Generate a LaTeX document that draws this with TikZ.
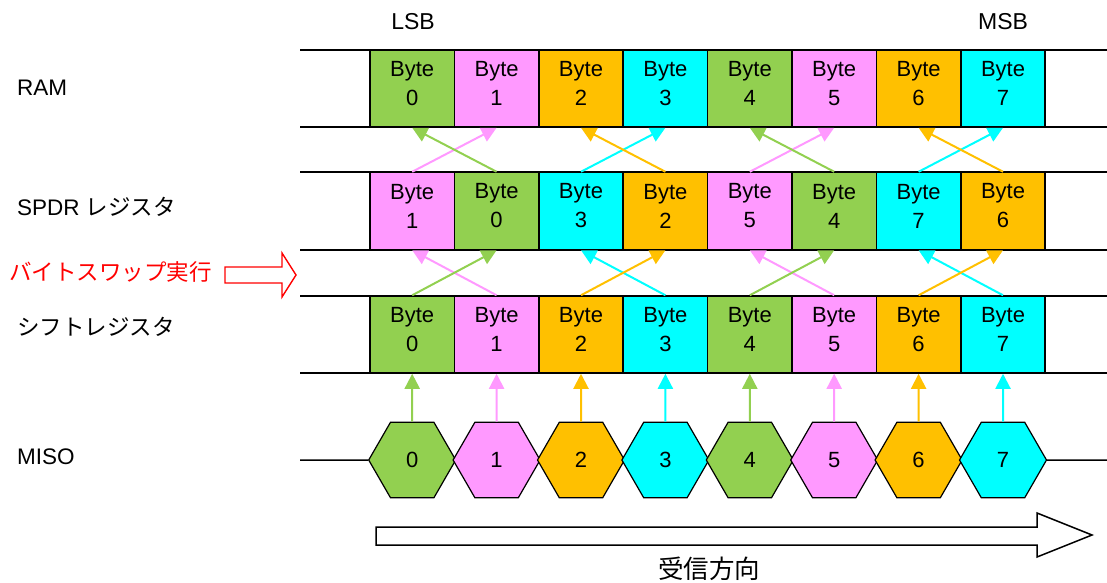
\documentclass[tikz,border=0pt]{standalone}
\usepackage{fontspec}
\setmainfont{Liberation Sans}
\newfontfamily\jpfont{Noto Sans CJK JP}
\usetikzlibrary{arrows.meta,shapes.geometric}
\definecolor{bgreen}{RGB}{146,208,80}
\definecolor{bpink}{RGB}{255,153,255}
\definecolor{bgold}{RGB}{255,192,0}
\definecolor{bcyan}{RGB}{0,255,255}
\tikzset{
  cell/.style={draw, line width=1.5pt, minimum width=84.4pt, minimum height=77pt,
    inner sep=0pt},
  celltext/.style={inner sep=0pt, align=center, font=\fontsize{22}{29}\selectfont},
  hexa/.style={draw, line width=1.2pt, regular polygon, regular polygon sides=6,
    minimum size=87pt, inner sep=0pt, font=\fontsize{22}{24}\selectfont},
  bus/.style={line width=1.5pt},
  feed/.style={line width=2pt, -{Triangle[width=15pt,length=15pt]}},
  rowlabel/.style={anchor=west, inner xsep=0pt, font=\fontsize{22.5}{25}\selectfont},
}
\begin{document}
\begin{tikzpicture}[x=1pt,y=-1pt]
\useasboundingbox (0,0) rectangle (1107,582);

% bus lines
\foreach \y in {50,127,172,250,296,373}
  \draw[bus] (300,\y) -- (1107,\y);

% RAM and shift register
\foreach \i/\c in {0/bgreen,1/bpink,2/bgold,3/bcyan,4/bgreen,5/bpink,6/bgold,7/bcyan}{
  \node[cell, fill=\c] (r\i) at (412.2+84.4*\i, 88.5) {};
  \node[celltext] (rt\i) at ([yshift=5pt]r\i.center) {Byte\\\i};
  \node[cell, fill=\c] (s\i) at (412.2+84.4*\i, 334.5) {};
  \node[celltext] (st\i) at ([yshift=5pt]s\i.center) {Byte\\\i};
  \node[hexa, fill=\c] (m\i) at (412.2+84.4*\i, 460) {\i};
  \draw[feed, \c] (m\i.north) -- (s\i.south);
}

% SPDR after the byte swap
\foreach \i/\j/\c in {0/1/bpink,1/0/bgreen,2/3/bcyan,3/2/bgold,4/5/bpink,5/4/bgreen,6/7/bcyan,7/6/bgold}{
  \node[cell, fill=\c] (p\i) at (412.2+84.4*\i, 211) {};
  \node[celltext] (pt\i) at ([yshift=5pt]p\i.center) {Byte\\\j};
}
\foreach \i/\j/\c in {0/1/bpink,1/0/bgreen,2/3/bcyan,3/2/bgold,4/5/bpink,5/4/bgreen,6/7/bcyan,7/6/bgold}{
  \draw[feed, \c] (p\i.north) -- (r\j.south);
  \draw[feed, \c] (s\j.north) -- (p\i.south);
}

% MISO line
\draw[bus] (300,460) -- (m0.west);
\draw[bus] (m7.east) -- (1107,460);

% labels
\node[font=\fontsize{23}{25}\selectfont] (lsb) at (413,22) {LSB};
\node[font=\fontsize{23}{25}\selectfont] (msb) at (1003,22) {MSB};
\node[rowlabel] (ram) at (17,88) {RAM};
\node[rowlabel] (spdr) at (17,207) {SPDR {\jpfont レジスタ}};
\node[rowlabel, red] (swap) at (9,272) {\jpfont バイトスワップ実行};
\node[rowlabel] (shift) at (17,327) {\jpfont シフトレジスタ};
\node[rowlabel] (miso) at (17,457) {MISO};

% hollow arrows
\draw[red, line width=1.4pt, fill=white] (225,267) -- (282,267) -- (282,253) -- (296,275)
  -- (282,297) -- (282,283) -- (225,283) -- cycle;
\draw[line width=1.5pt, fill=white] (376,527) -- (1037,527) -- (1037,513) -- (1092,535)
  -- (1037,557) -- (1037,545) -- (376,545) -- cycle;
\node[font=\jpfont\fontsize{25.5}{27}\selectfont] (dir) at (709,569) {受信方向};
\end{tikzpicture}
\end{document}
